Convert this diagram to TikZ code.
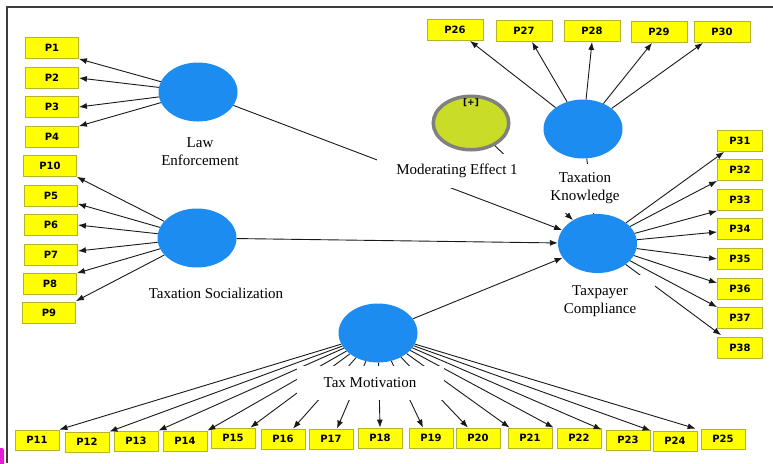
\documentclass[tikz,border=0pt]{standalone}
\usepackage{fontspec}
\setmainfont{Liberation Serif}
\newfontfamily\boxfont{DejaVu Sans}
\usetikzlibrary{shapes.geometric,arrows.meta,calc}
\definecolor{lvblue}{RGB}{28,140,240}
\definecolor{pyellow}{RGB}{255,255,0}
\definecolor{pborder}{RGB}{180,180,40}
\definecolor{modfill}{RGB}{200,220,40}
\definecolor{modborder}{RGB}{128,128,128}
\definecolor{framecol}{RGB}{60,60,60}
\definecolor{magcol}{RGB}{225,30,210}
\begin{document}
\begin{tikzpicture}[x=1pt,y=-1pt,
  latent/.style={ellipse,fill=lvblue,draw=none,minimum width=79pt,minimum height=59pt,inner sep=0pt},
  pbox/.style={draw=pborder,fill=pyellow,line width=0.8pt,minimum height=21pt,inner sep=0pt,font=\boxfont\bfseries\fontsize{10}{12}\selectfont},
  lbox/.style={pbox,minimum width=53pt},
  tbox/.style={pbox,minimum width=56pt},
  rbox/.style={pbox,minimum width=45pt},
  bbox/.style={pbox,minimum width=44pt,minimum height=20pt},
  conn/.style={draw=black!90,line width=0.9pt,-{Latex[length=8pt,width=6pt]}},
  plain/.style={draw=black!90,line width=0.9pt},
  lbl/.style={font=\fontsize{15}{18}\selectfont,align=center,fill=white,inner sep=0pt}
]
\useasboundingbox (0,0) rectangle (773,463);
\fill[white] (0,0) rectangle (773,463);
\draw[framecol,line width=1.2pt] (773,7) -- (7,7) -- (7,463);
\fill[magcol,rounded corners=2pt] (-4,448) rectangle (4,468);

% latent variables
\node[latent] (LE) at (198,92) {};
\node[latent] (TS) at (197,238) {};
\node[latent] (TK) at (583,129) {};
\node[latent] (TC) at (597.5,243.5) {};
\node[latent] (TM) at (378,333) {};
\node[ellipse,fill=modfill,draw=modborder,line width=3.5pt,minimum width=75.5pt,minimum height=53.5pt,inner sep=0pt] (ME) at (471,123) {};
\node[font=\boxfont\bfseries\fontsize{9}{10}\selectfont,inner sep=0pt] (MEp) at (471,103) {[+]};

% indicators left
\node[lbox] (P1) at (52,48) {P1};
\node[lbox] (P2) at (52,78) {P2};
\node[lbox] (P3) at (52,107) {P3};
\node[lbox] (P4) at (52,137) {P4};
\node[lbox] (P10) at (50,166) {P10};
\node[lbox] (P5) at (51,196) {P5};
\node[lbox] (P6) at (51,225) {P6};
\node[lbox] (P7) at (51,255) {P7};
\node[lbox] (P8) at (50,284) {P8};
\node[lbox] (P9) at (49,313) {P9};
% top
\node[tbox] (P26) at (455,30) {P26};
\node[tbox] (P27) at (524,31) {P27};
\node[tbox] (P28) at (592,31) {P28};
\node[tbox] (P29) at (659,32) {P29};
\node[tbox] (P30) at (722,32) {P30};
% right
\node[rbox] (P31) at (740,141) {P31};
\node[rbox] (P32) at (740,170) {P32};
\node[rbox] (P33) at (740,200) {P33};
\node[rbox] (P34) at (740,229) {P34};
\node[rbox] (P35) at (740,259) {P35};
\node[rbox] (P36) at (740,289) {P36};
\node[rbox] (P37) at (740,318) {P37};
\node[rbox] (P38) at (740,348) {P38};
% bottom
\node[bbox] (P11) at (37,440) {P11};
\node[bbox] (P12) at (87,442) {P12};
\node[bbox] (P13) at (136,441) {P13};
\node[bbox] (P14) at (185,441) {P14};
\node[bbox] (P15) at (233,438) {P15};
\node[bbox] (P16) at (283,439) {P16};
\node[bbox] (P17) at (331,439) {P17};
\node[bbox] (P18) at (380,438) {P18};
\node[bbox] (P19) at (431,438) {P19};
\node[bbox] (P20) at (478,438) {P20};
\node[bbox] (P21) at (530,438) {P21};
\node[bbox] (P22) at (579,438) {P22};
\node[bbox] (P23) at (628,440) {P23};
\node[bbox] (P24) at (675,441) {P24};
\node[bbox] (P25) at (723,439) {P25};

% Law Enforcement indicators
\draw[conn] (LE) -- (P1.south east);
\draw[conn] (LE) -- (P2.east);
\draw[conn] (LE) -- (P3.east);
\draw[conn] (LE) -- (P4.north east);
% Taxation Socialization indicators
\draw[conn] (TS) -- (P10.south east);
\draw[conn] (TS) -- ([yshift=3pt]P5.south east);
\draw[conn] (TS) -- (P6.east);
\draw[conn] (TS) -- ([yshift=4pt]P7.east);
\draw[conn] (TS) -- (P8.north east);
\draw[conn] (TS) -- ([yshift=1pt]P9.north east);
% Taxation Knowledge indicators
\draw[conn] (TK) -- ([xshift=15pt]P26.south);
\draw[conn] (TK) -- ([xshift=8pt]P27.south);
\draw[conn] (TK) -- (P28.south);
\draw[conn] (TK) -- ([xshift=-7pt]P29.south);
\draw[conn] (TK) -- ([xshift=-19pt]P30.south);
% Taxpayer Compliance indicators
\draw[conn] (TC) -- ([xshift=7pt]P31.south west);
\draw[conn] (TC) -- (P32.south west);
\draw[conn] (TC) -- (P33.south west);
\draw[conn] (TC) -- ([yshift=-3pt]P34.west);
\draw[conn] (TC) -- (P35.west);
\draw[conn] (TC) -- ([yshift=-5pt]P36.north west);
\draw[conn] (TC) -- (P37.north west);
\draw[conn] (TC) -- ([yshift=2pt,xshift=4pt]P38.north west);
% Tax Motivation indicators
\draw[conn] (TM) -- (P11.north east);
\draw[conn] (TM) -- (P12.north east);
\draw[conn] (TM) -- (P13.north east);
\draw[conn] (TM) -- (P14.north east);
\draw[conn] (TM) -- ([xshift=-5pt]P15.north east);
\draw[conn] (TM) -- ([xshift=10pt]P16.north);
\draw[conn] (TM) -- ([xshift=6pt]P17.north);
\draw[conn] (TM) -- (P18.north);
\draw[conn] (TM) -- ([xshift=-8pt]P19.north);
\draw[conn] (TM) -- ([xshift=-10pt]P20.north);
\draw[conn] (TM) -- ([xshift=2pt]P21.north west);
\draw[conn] (TM) -- ([xshift=-3pt]P22.north west);
\draw[conn] (TM) -- ([xshift=-4pt]P23.north west);
\draw[conn] (TM) -- ([xshift=-2pt]P24.north west);
\draw[conn] (TM) -- ([xshift=-5pt]P25.north west);

% structural paths
\draw[conn] (LE) -- (TC);
\draw[conn] (TS) -- (TC);
\draw[conn] (TM) -- (TC);
\draw[conn] (ME) -- (TC);
\draw[plain] (TK) -- (TC);

% labels
\node[lbl] (LEl) at (200,152) {Law\\Enforcement};
\node[lbl] (TSl) at (216,293) {Taxation Socialization};
\node[lbl,minimum width=160pt,minimum height=34pt] (MEl) at (457,171) {Moderating Effect 1};
\node[lbl,minimum width=98pt,minimum height=49pt] (TKl) at (585,188) {Taxation\\Knowledge};
\node[lbl,minimum width=110pt,minimum height=52pt] (TCl) at (600,301) {Taxpayer\\Compliance};
\node[lbl,minimum width=147pt,minimum height=34pt] (TMl) at (370,383) {Tax Motivation};
\end{tikzpicture}
\end{document}
